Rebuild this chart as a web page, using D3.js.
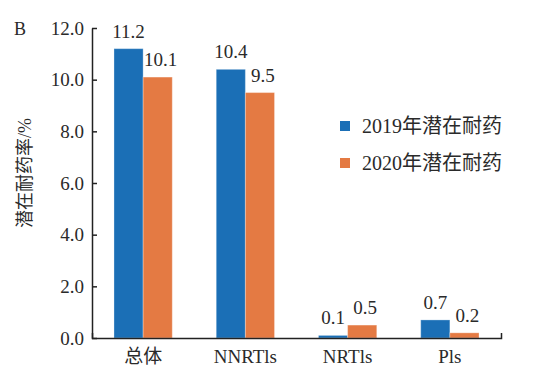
<!DOCTYPE html>
<html>
<head>
<meta charset="utf-8">
<script src="https://cdn.jsdelivr.net/npm/d3@7"></script>
<style>
  body { margin: 0; background: #fff; }
  text { font-family: "Liberation Serif", "Noto Sans CJK SC", serif; fill: #2a2a2a; }
</style>
</head>
<body>
<div id="chart"></div>
<script>
// Chart data
const categories = ["总体", "NNRTls", "NRTls", "Pls"];
const seriesNames = ["2019年潜在耐药", "2020年潜在耐药"];
const values2019 = [11.2, 10.4, 0.1, 0.7];
const values2020 = [10.1, 9.5, 0.5, 0.2];
const yTicks = [0, 2, 4, 6, 8, 10, 12];

const colors = ["#1b6fb6", "#e47a43"];

function drawGroupedBarChart() {
    const width = 544, height = 371;
    const plot = { left: 92, right: 501, top: 28, bottom: 338 };

    const svg = d3.select("#chart")
        .append("svg")
        .attr("width", width)
        .attr("height", height);

    // Rows for each category
    const data = categories.map((c, i) => ({
        category: c,
        values: [values2019[i], values2020[i]]
    }));

    // Scales
    const x = d3.scaleBand()
        .domain(categories)
        .range([plot.left, plot.right])
        .paddingInner(0.43)
        .paddingOuter(0.215);

    const x1 = d3.scaleBand()
        .domain(d3.range(seriesNames.length))
        .range([0, x.bandwidth()]);

    const y = d3.scaleLinear()
        .domain([0, 12])
        .range([plot.bottom, plot.top]);

    // Bars
    const groups = svg.selectAll(".group")
        .data(data)
        .enter()
        .append("g")
        .attr("class", "group")
        .attr("transform", d => `translate(${x(d.category)},0)`);

    groups.selectAll("rect")
        .data(d => d.values)
        .enter()
        .append("rect")
        .attr("x", (d, i) => x1(i))
        .attr("y", d => y(d))
        .attr("width", x1.bandwidth())
        .attr("height", d => y(0) - y(d))
        .attr("fill", (d, i) => colors[i])
        .attr("stroke", "#ffffff")
        .attr("stroke-opacity", 0.3)
        .attr("stroke-width", 1);

    // Value labels above bars
    groups.selectAll(".val")
        .data(d => d.values)
        .enter()
        .append("text")
        .attr("class", "val")
        .attr("x", (d, i) => x1(i) + x1.bandwidth() / 2 + (i === 1 ? 3 : 0))
        .attr("y", d => y(d) - 11)
        .attr("text-anchor", "middle")
        .style("font-size", "19px")
        .text(d => d3.format(".1f")(d));

    // Y axis, ticks pointing inward
    const yAxis = svg.append("g")
        .attr("transform", `translate(${plot.left},0)`)
        .call(d3.axisLeft(y)
            .tickValues(yTicks)
            .tickFormat(d3.format(".1f"))
            .tickSizeInner(-5)
            .tickSizeOuter(0)
            .tickPadding(8));
    yAxis.selectAll("text").style("font-size", "19px").attr("fill", "#2a2a2a");
    yAxis.selectAll("line, path").attr("stroke", "#222").attr("stroke-width", 1.5);

    // X axis with small upturned end
    const xAxis = svg.append("g")
        .attr("transform", `translate(0,${plot.bottom})`)
        .call(d3.axisBottom(x)
            .tickSizeInner(0)
            .tickSizeOuter(-5)
            .tickPadding(12));
    xAxis.selectAll("text").style("font-size", "19px").attr("fill", "#2a2a2a");
    xAxis.selectAll("path").attr("stroke", "#222").attr("stroke-width", 1.5);

    // Y axis title
    svg.append("text")
        .attr("transform", "translate(25,173) rotate(-90)")
        .attr("text-anchor", "middle")
        .attr("dominant-baseline", "central")
        .style("font-size", "18px")
        .text("潜在耐药率/%");

    // Panel letter
    svg.append("text")
        .attr("x", 14)
        .attr("y", 35)
        .style("font-size", "18px")
        .text("B");

    // Legend
    const legend = svg.append("g")
        .attr("transform", "translate(340,126)");

    const items = legend.selectAll(".item")
        .data(seriesNames)
        .enter()
        .append("g")
        .attr("class", "item")
        .attr("transform", (d, i) => `translate(0,${i * 37})`);

    items.append("rect")
        .attr("x", 0)
        .attr("y", -5)
        .attr("width", 10)
        .attr("height", 10)
        .attr("fill", (d, i) => colors[i]);

    items.append("text")
        .attr("x", 22)
        .attr("y", 0)
        .attr("dy", "0.35em")
        .style("font-size", "20px")
        .text(d => d);
}

drawGroupedBarChart();
</script>
</body>
</html>
